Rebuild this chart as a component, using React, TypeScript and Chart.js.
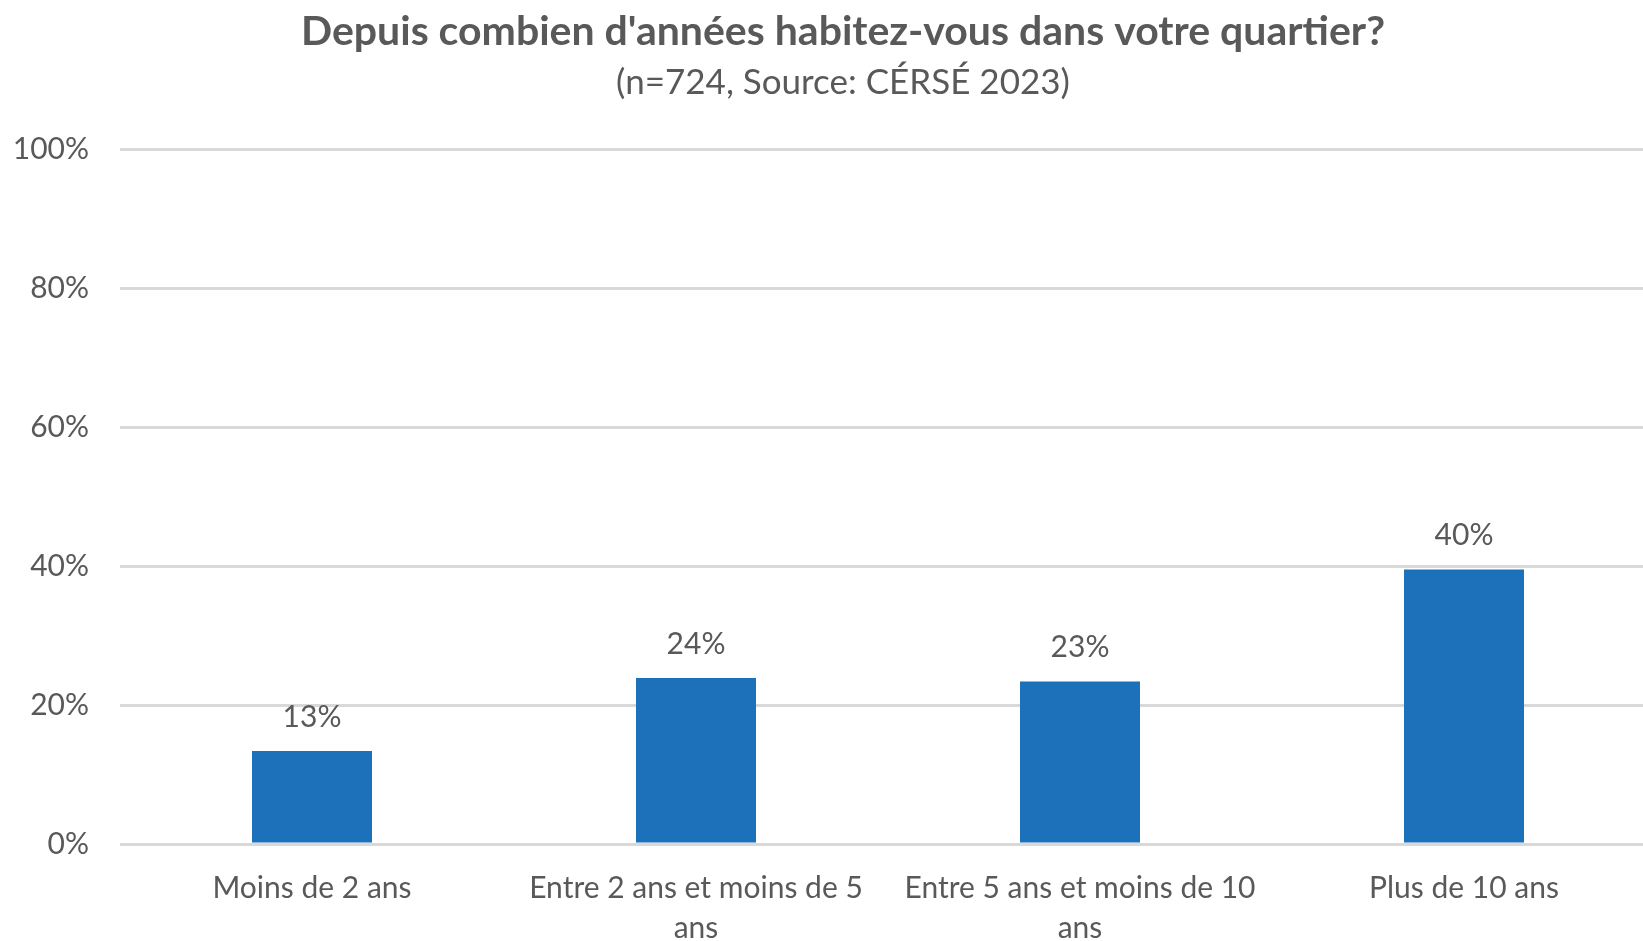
import React, { useEffect, useRef } from "react";
import { Chart, registerables } from "chart.js";

Chart.register(...registerables);

const categories: string[][] = [
  ["Moins de 2 ans"],
  ["Entre 2 ans et moins de 5", "ans"],
  ["Entre 5 ans et moins de 10", "ans"],
  ["Plus de 10 ans"],
];
const values: number[] = [13.4, 23.9, 23.4, 39.5];
const yTicks: number[] = [0, 20, 40, 60, 80, 100];

const TITLE = "Depuis combien d'années habitez-vous dans votre quartier?";
const SUBTITLE = "(n=724, Source: CÉRSÉ 2023)";
const FONT = "Lato, 'Open Sans', sans-serif";
const GREY = "#595959";

const dataLabels = {
  id: "dataLabels",
  afterDatasetsDraw(chart: any) {
    const ctx = chart.ctx;
    const meta = chart.getDatasetMeta(0);
    ctx.save();
    ctx.font = `30px ${FONT}`;
    ctx.fillStyle = GREY;
    ctx.textAlign = "center";
    ctx.textBaseline = "middle";
    meta.data.forEach((bar: any, i: number) => {
      ctx.fillText(Math.round(values[i]) + "%", bar.x, bar.y - 34);
    });
    ctx.restore();
  },
};

export default function App() {
  const ref = useRef<HTMLCanvasElement>(null);
  useEffect(() => {
    document.body.style.overflow = "hidden";
    const chart = new Chart(ref.current!, {
      type: "bar",
      data: {
        labels: categories,
        datasets: [
          {
            data: values,
            backgroundColor: "#1C71BA",
            borderWidth: 0,
            categoryPercentage: 1,
            barPercentage: 0.3125,
          },
        ],
      },
      options: {
        animation: false,
        responsive: true,
        maintainAspectRatio: false,
        layout: { padding: 0 },
        plugins: {
          legend: { display: false },
          tooltip: { enabled: false },
          title: {
            display: true,
            text: TITLE,
            color: GREY,
            font: { family: FONT, size: 41, weight: "bold" },
            padding: { top: 7, bottom: 0 },
          },
          subtitle: {
            display: true,
            text: SUBTITLE,
            color: GREY,
            font: { family: FONT, size: 35 },
            padding: { top: 6, bottom: 45 },
          },
        },
        scales: {
          x: {
            grid: { display: false },
            border: { display: false },
            ticks: {
              color: GREY,
              font: { family: FONT, size: 30, lineHeight: 1.33 },
              padding: 16,
              maxRotation: 0,
              autoSkip: false,
            },
            afterFit(scale: any) {
              scale.height = 97;
            },
          },
          y: {
            min: 0,
            max: 100,
            afterBuildTicks(scale: any) {
              scale.ticks = yTicks.map((v) => ({ value: v }));
            },
            grid: { color: "#D9D9D9", lineWidth: 3, drawTicks: false },
            border: { display: false },
            ticks: {
              color: GREY,
              font: { family: FONT, size: 30 },
              padding: 31,
              callback: (v: any) => v + "%",
            },
            afterFit(scale: any) {
              scale.width = 120;
            },
          },
          spacer: {
            type: "linear",
            position: "right",
            display: true,
            grid: { display: false, drawTicks: false },
            border: { display: false },
            ticks: { display: false },
            afterFit(scale: any) {
              scale.width = 30;
            },
          },
        },
      },
      plugins: [dataLabels],
    } as any);
    return () => chart.destroy();
  }, []);
  return (
    <div style={{ position: "fixed", left: 0, top: 0, width: 1686, height: 941, background: "#fff" }}>
      <canvas ref={ref} />
    </div>
  );
}
